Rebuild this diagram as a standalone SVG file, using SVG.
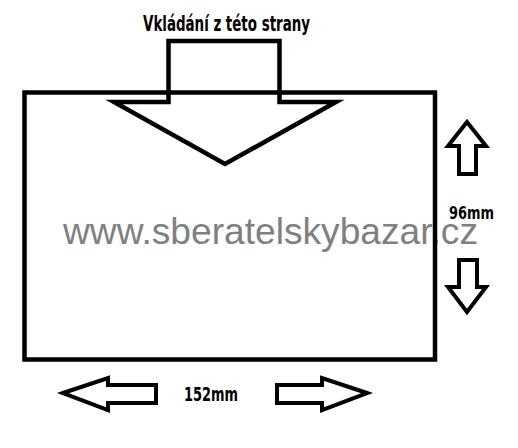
<svg xmlns="http://www.w3.org/2000/svg" width="518" height="448" viewBox="0 0 518 448">
<style>
.sh{fill:none;stroke:#000;stroke-width:4.5;stroke-linejoin:miter}
.ar{fill:#fff;stroke:#000;stroke-width:4;stroke-linejoin:miter}
.lb{font-family:"Liberation Sans Narrow","DejaVu Sans Condensed","Liberation Sans",sans-serif;font-weight:bold;fill:#000}
.wm{font-family:"Liberation Sans",Arial,sans-serif;fill:#808080}
</style>
<rect width="518" height="448" fill="#fff"/>
<text class="wm" x="63" y="244" font-size="37" textLength="415" lengthAdjust="spacingAndGlyphs">www.sberatelskybazar.cz</text>
<g id="box">
<rect class="sh" x="24.5" y="92.5" width="410.5" height="267"/>
</g>
<g id="insert-arrow">
<polygon class="sh" points="168.5,41 279.5,41 279.5,102 336,102 225,164 114,102 168.5,102"/>
</g>
<g id="title">
<text class="lb" x="143" y="31" font-size="22" textLength="167" lengthAdjust="spacingAndGlyphs">Vkládání z této strany</text>
</g>
<g id="dim-height">
<text class="lb" x="449" y="219" font-size="18" textLength="45" lengthAdjust="spacingAndGlyphs">96mm</text>
</g>
<g id="dim-width">
<text class="lb" x="184" y="401" font-size="20" textLength="54" lengthAdjust="spacingAndGlyphs">152mm</text>
</g>
<g id="connectors">
<polygon class="ar" points="467,122 486,146 476,146 476,174 459,174 459,146 448,146"/>
<polygon class="ar" points="459,260 477,260 477,287 486,287 467,312 448,287 459,287"/>
<polygon class="ar" points="63,393 108,378 108,385 156,385 156,403 108,403 108,410"/>
<polygon class="ar" points="367,393 322,378 322,385 277,385 277,403 322,403 322,410"/>
</g>
</svg>
